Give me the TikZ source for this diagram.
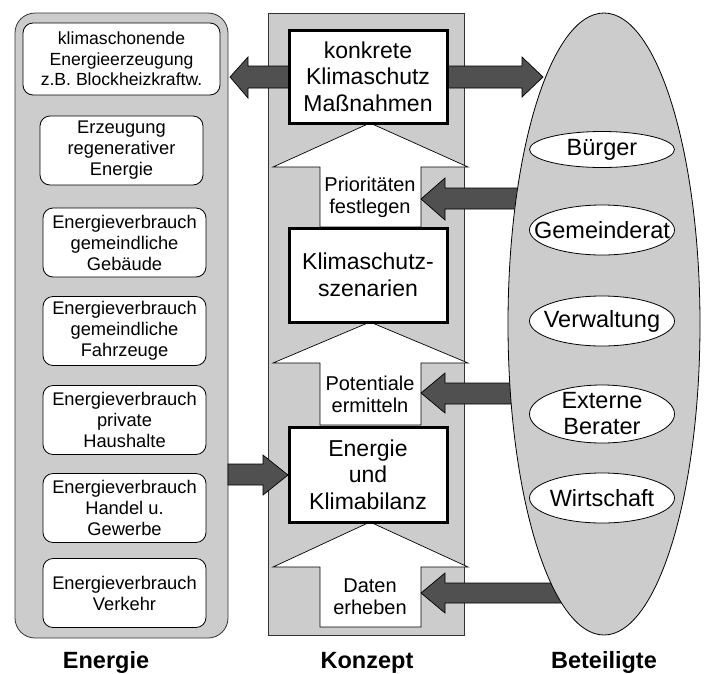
\documentclass[tikz,border=0pt]{standalone}
\usepackage{fontspec}
\setmainfont{Liberation Sans}
\usetikzlibrary{shapes.geometric}
\definecolor{panelgray}{HTML}{CCCCCC}
\definecolor{darkarr}{HTML}{505050}
\begin{document}
\begin{tikzpicture}[x=1pt,y=-1pt,
  panel/.style={draw=black!80,line width=0.8pt,fill=panelgray},
  smallbox/.style={draw=black,line width=0.8pt,fill=white,rounded corners=10pt,
    minimum width=163pt,minimum height=69pt,inner sep=0pt,align=center,
    font=\fontsize{18.3}{21}\selectfont},
  bigbox/.style={draw=black,line width=3pt,fill=white,
    minimum width=158pt,minimum height=92pt,inner sep=0pt,align=center,
    font=\fontsize{23}{26.5}\selectfont},
  whitearrow/.style={draw=black,line width=0.7pt,fill=white},
  darkarrow/.style={draw=black,line width=0.7pt,fill=darkarr},
  steptext/.style={align=center,font=\fontsize{20}{22}\selectfont,inner sep=0pt},
  ovalbox/.style={ellipse,draw=black,line width=0.8pt,fill=white,inner sep=0pt,minimum width=145pt},
  ovaltext/.style={align=center,font=\fontsize{23.5}{26}\selectfont,inner sep=0pt},
  caption/.style={font=\fontsize{23.5}{25}\selectfont\bfseries,inner sep=0pt,anchor=base}
]
\useasboundingbox (0,0) rectangle (705,673);
\fill[white] (0,0) rectangle (705,673);

% panels
\draw[panel,rounded corners=20pt] (15,13) rectangle (228,638);
\draw[panel] (268,13) rectangle (464,635);

% white step arrows
\draw[whitearrow] (370,123) -- (468,167) -- (421,167) -- (421,227) -- (320,227) -- (320,167) -- (273,167) -- cycle;
\draw[whitearrow] (370,322) -- (468,363) -- (421,363) -- (421,425) -- (320,425) -- (320,363) -- (273,363) -- cycle;
\draw[whitearrow] (370,522) -- (468,567) -- (421,567) -- (421,627) -- (320,627) -- (320,567) -- (273,567) -- cycle;

% dark arrows
\draw[darkarrow] (230,77) -- (248,57) -- (248,66) -- (522,66) -- (522,57) -- (543,77) -- (522,97) -- (522,88) -- (248,88) -- (248,98) -- cycle;
\draw[darkarrow] (421,199) -- (445,178) -- (445,188) -- (540,188) -- (540,209) -- (445,209) -- (445,220) -- cycle;
\draw[darkarrow] (421,393) -- (445,373) -- (445,383) -- (540,383) -- (540,404) -- (445,404) -- (445,413) -- cycle;
\draw[darkarrow] (421,593) -- (445,573) -- (445,583) -- (580,583) -- (580,603) -- (445,603) -- (445,613) -- cycle;
\draw[darkarrow] (288,475) -- (263,455) -- (263,464) -- (228,464) -- (228,485) -- (263,485) -- (263,495) -- cycle;

% Beteiligte ellipse
\node[ellipse,draw=black,line width=0.8pt,fill=panelgray,minimum width=192pt,minimum height=622pt,inner sep=0pt] (bet) at (604,324) {};

% left boxes
\node[smallbox,minimum width=197pt,minimum height=72pt,font=\fontsize{17.6}{20.5}\selectfont] (k1) at (121.5,59) {klimaschonende\\Energieerzeugung\\z.B. Blockheizkraftw.};
\node[smallbox] (k2) at (121.5,150.5) {Erzeugung\\regenerativer\\Energie};
\node[smallbox] (k3) at (124.5,242.5) {Energieverbrauch\\gemeindliche\\Gebäude};
\node[smallbox] (k4) at (124.5,331) {Energieverbrauch\\gemeindliche\\Fahrzeuge};
\node[smallbox] (k5) at (124.5,420) {Energieverbrauch\\private\\Haushalte};
\node[smallbox] (k6) at (124.5,508) {Energieverbrauch\\Handel u.\\Gewerbe};
\node[smallbox] (k7) at (124.5,593) {Energieverbrauch\\Verkehr};

% concept boxes
\node[bigbox,minimum height=93pt] (m1) at (368,76.5) {konkrete\\Klimaschutz\\Maßnahmen};
\node[bigbox,minimum height=94pt] (m2) at (368,275) {Klimaschutz-\\szenarien};
\node[bigbox,minimum height=95pt] (m3) at (368,474.5) {Energie\\und\\Klimabilanz};

\node[steptext] (s1) at (370,197) {Prioritäten\\festlegen};
\node[steptext] (s2) at (370,394) {Potentiale\\ermitteln};
\node[steptext] (s3) at (370,597) {Daten\\erheben};

% stakeholder ellipses
\node[ovalbox,minimum height=36pt] (b1) at (602,149.5) {};
\node[ovaltext] at (b1) {Bürger};
\node[ovalbox,minimum height=50pt] (b2) at (602,230) {};
\node[ovaltext] at (b2) {Gemeinderat};
\node[ovalbox,minimum height=50pt] (b3) at (602,321) {};
\node[ovaltext] at (b3) {Verwaltung};
\node[ovalbox,minimum height=58pt] (b4) at (602,414) {};
\node[ovaltext] at (b4) {Externe\\Berater};
\node[ovalbox,minimum height=50pt] (b5) at (602,498) {};
\node[ovaltext] at (b5) {Wirtschaft};

% captions
\node[caption] (c1) at (106,668) {Energie};
\node[caption] (c2) at (367,668) {Konzept};
\node[caption] (c3) at (604,668) {Beteiligte};
\end{tikzpicture}
\end{document}
